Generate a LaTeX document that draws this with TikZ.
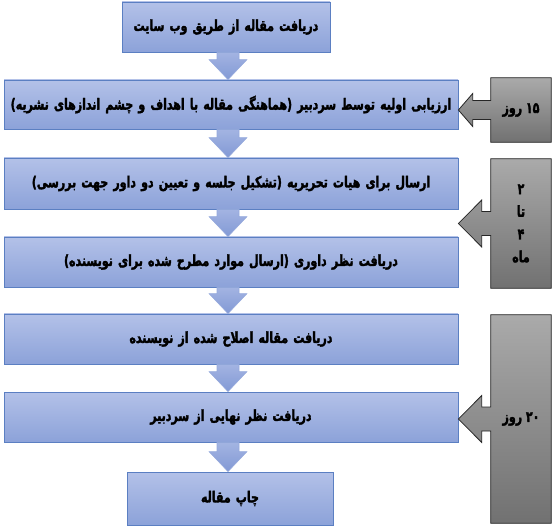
\documentclass[tikz,border=0pt]{standalone}
\usepackage{fontspec}
\newfontfamily\fa[Script=Arabic,FakeStretch=0.72,BoldFont={DejaVu Sans Bold},BoldFeatures={FakeBold=2}]{DejaVu Sans}
\TeXXeTstate=1
\usetikzlibrary{calc}
\definecolor{bluetop}{HTML}{B3C1E8}
\definecolor{bluebot}{HTML}{8CA2D9}
\definecolor{blueline}{HTML}{5B7FC2}
\definecolor{arrtop}{HTML}{A3B4E2}
\definecolor{arrbot}{HTML}{8299D5}
\definecolor{graytop}{HTML}{AAAAAA}
\definecolor{graybot}{HTML}{717171}
\tikzset{
  stepbox/.style={draw=blueline, line width=0.6pt, top color=bluetop, bottom color=bluebot,
    inner sep=0pt, font=\fa\bfseries\fontsize{11.5pt}{14pt}\selectfont, align=center},
  flowarrow/.style={top color=arrtop, bottom color=arrbot, draw=arrtop!80!blueline, line width=0.4pt,
    to path={let \p1=(\tikztostart),\p2=(\tikztotarget) in
      (\x1-8.25pt,\y1) -- (\x1-8.25pt,\y2+15pt) -- (\x1-14.25pt,\y2+15pt) -- (\x1,\y2)
      -- (\x1+14.25pt,\y2+15pt) -- (\x1+8.25pt,\y2+15pt) -- (\x1+8.25pt,\y1) -- cycle}},
  calloutbody/.style={inner sep=0pt, font=\fa\bfseries\fontsize{11.5pt}{14pt}\selectfont, align=center},
  calloutshape/.style={draw=black!85, line width=0.6pt, top color=graytop, bottom color=graybot}
}
\begin{document}
\begin{tikzpicture}[x=0.75pt,y=-0.75pt]
\useasboundingbox (0,0) rectangle (557,527);
\coordinate (ax) at (228,0);
% callout bodies
\node[calloutbody, minimum width=45pt, minimum height=48pt] (c1) at (521,110) {};
\node[calloutbody, minimum width=45pt, minimum height=96.75pt] (c2) at (521,223.5) {};
\node[calloutbody, minimum width=45pt, minimum height=156pt] (c3) at (521,419) {};
% main steps
\node[stepbox, text width=156pt, minimum height=37.5pt] (b1) at (226,27) {\beginR دریافت مقاله از طریق وب سایت\endR};
\node[stepbox, text width=340.5pt, minimum height=36.75pt] (b2) at (231,104.5) {\beginR ارزیابی اولیه توسط سردبیر (هماهنگی مقاله با اهداف و چشم اندازهای نشریه)\endR};
\node[stepbox, text width=340.5pt, minimum height=38.25pt] (b3) at (231,183.5) {\beginR ارسال برای هیات تحریریه (تشکیل جلسه و تعیین دو داور جهت بررسی)\endR};
\node[stepbox, text width=340.5pt, minimum height=37.5pt] (b4) at (231,262) {\beginR دریافت نظر داوری (ارسال موارد مطرح شده برای نویسنده)\endR};
\node[stepbox, text width=340.5pt, minimum height=37.5pt] (b5) at (231,339) {\beginR دریافت مقاله اصلاح شده از نویسنده\endR};
\node[stepbox, text width=340.5pt, minimum height=37.5pt] (b6) at (231,417) {\beginR دریافت نظر نهایی از سردبیر\endR};
\node[stepbox, text width=154.5pt, minimum height=39.75pt] (b7) at (230,498.5) {\beginR چاپ مقاله\endR};
% flow arrows
\path[flowarrow] (b1.south -| ax) to (b2.north -| ax);
\path[flowarrow] (b2.south -| ax) to (b3.north -| ax);
\path[flowarrow] (b3.south -| ax) to (b4.north -| ax);
\path[flowarrow] (b4.south -| ax) to (b5.north -| ax);
\path[flowarrow] (b5.south -| ax) to (b6.north -| ax);
\path[flowarrow] (b6.south -| ax) to (b7.north -| ax);
% callout shapes
\path[calloutshape] let \p1=(c1.north west), \p2=(c1.south east), \p3=(c1.west -| b2.east) in
  (\x1,\y1) -- (\x2,\y1) -- (\x2,\y2) -- (\x1,\y2) -- (\x1,\y3-7.1pt) -- (\x1-13.5pt,\y3-7.1pt)
  -- (\x1-13.5pt,\y3-12.4pt) -- (\x3,\y3) -- (\x1-13.5pt,\y3+12.4pt) -- (\x1-13.5pt,\y3+7.1pt)
  -- (\x1,\y3+7.1pt) -- cycle;
\path[calloutshape] let \p1=(c2.north west), \p2=(c2.south east), \p3=(c2.west -| b3.east) in
  (\x1,\y1) -- (\x2,\y1) -- (\x2,\y2) -- (\x1,\y2) -- (\x1,\y3-9pt) -- (\x1-6.75pt,\y3-9pt)
  -- (\x1-6.75pt,\y3-17.6pt) -- (\x3,\y3) -- (\x1-6.75pt,\y3+17.6pt) -- (\x1-6.75pt,\y3+9pt)
  -- (\x1,\y3+9pt) -- cycle;
\path[calloutshape] let \p1=(c3.north west), \p2=(c3.south east), \p3=(c3.west -| b6.east) in
  (\x1,\y1) -- (\x2,\y1) -- (\x2,\y2) -- (\x1,\y2) -- (\x1,\y3-9pt) -- (\x1-6.75pt,\y3-9pt)
  -- (\x1-6.75pt,\y3-17.6pt) -- (\x3,\y3) -- (\x1-6.75pt,\y3+17.6pt) -- (\x1-6.75pt,\y3+9pt)
  -- (\x1,\y3+9pt) -- cycle;
% callout texts
\node[calloutbody] (t1) at (c1) {\beginR ۱۵ روز\endR};
\node[calloutbody] (t2) at (c2) {\beginR ۲\endR\\[3pt]\beginR تا\endR\\[3pt]\beginR ۴\endR\\[3pt]\beginR ماه\endR};
\node[calloutbody] (t3) at (c3) {\beginR ۲۰ روز\endR};
\end{tikzpicture}
\end{document}
